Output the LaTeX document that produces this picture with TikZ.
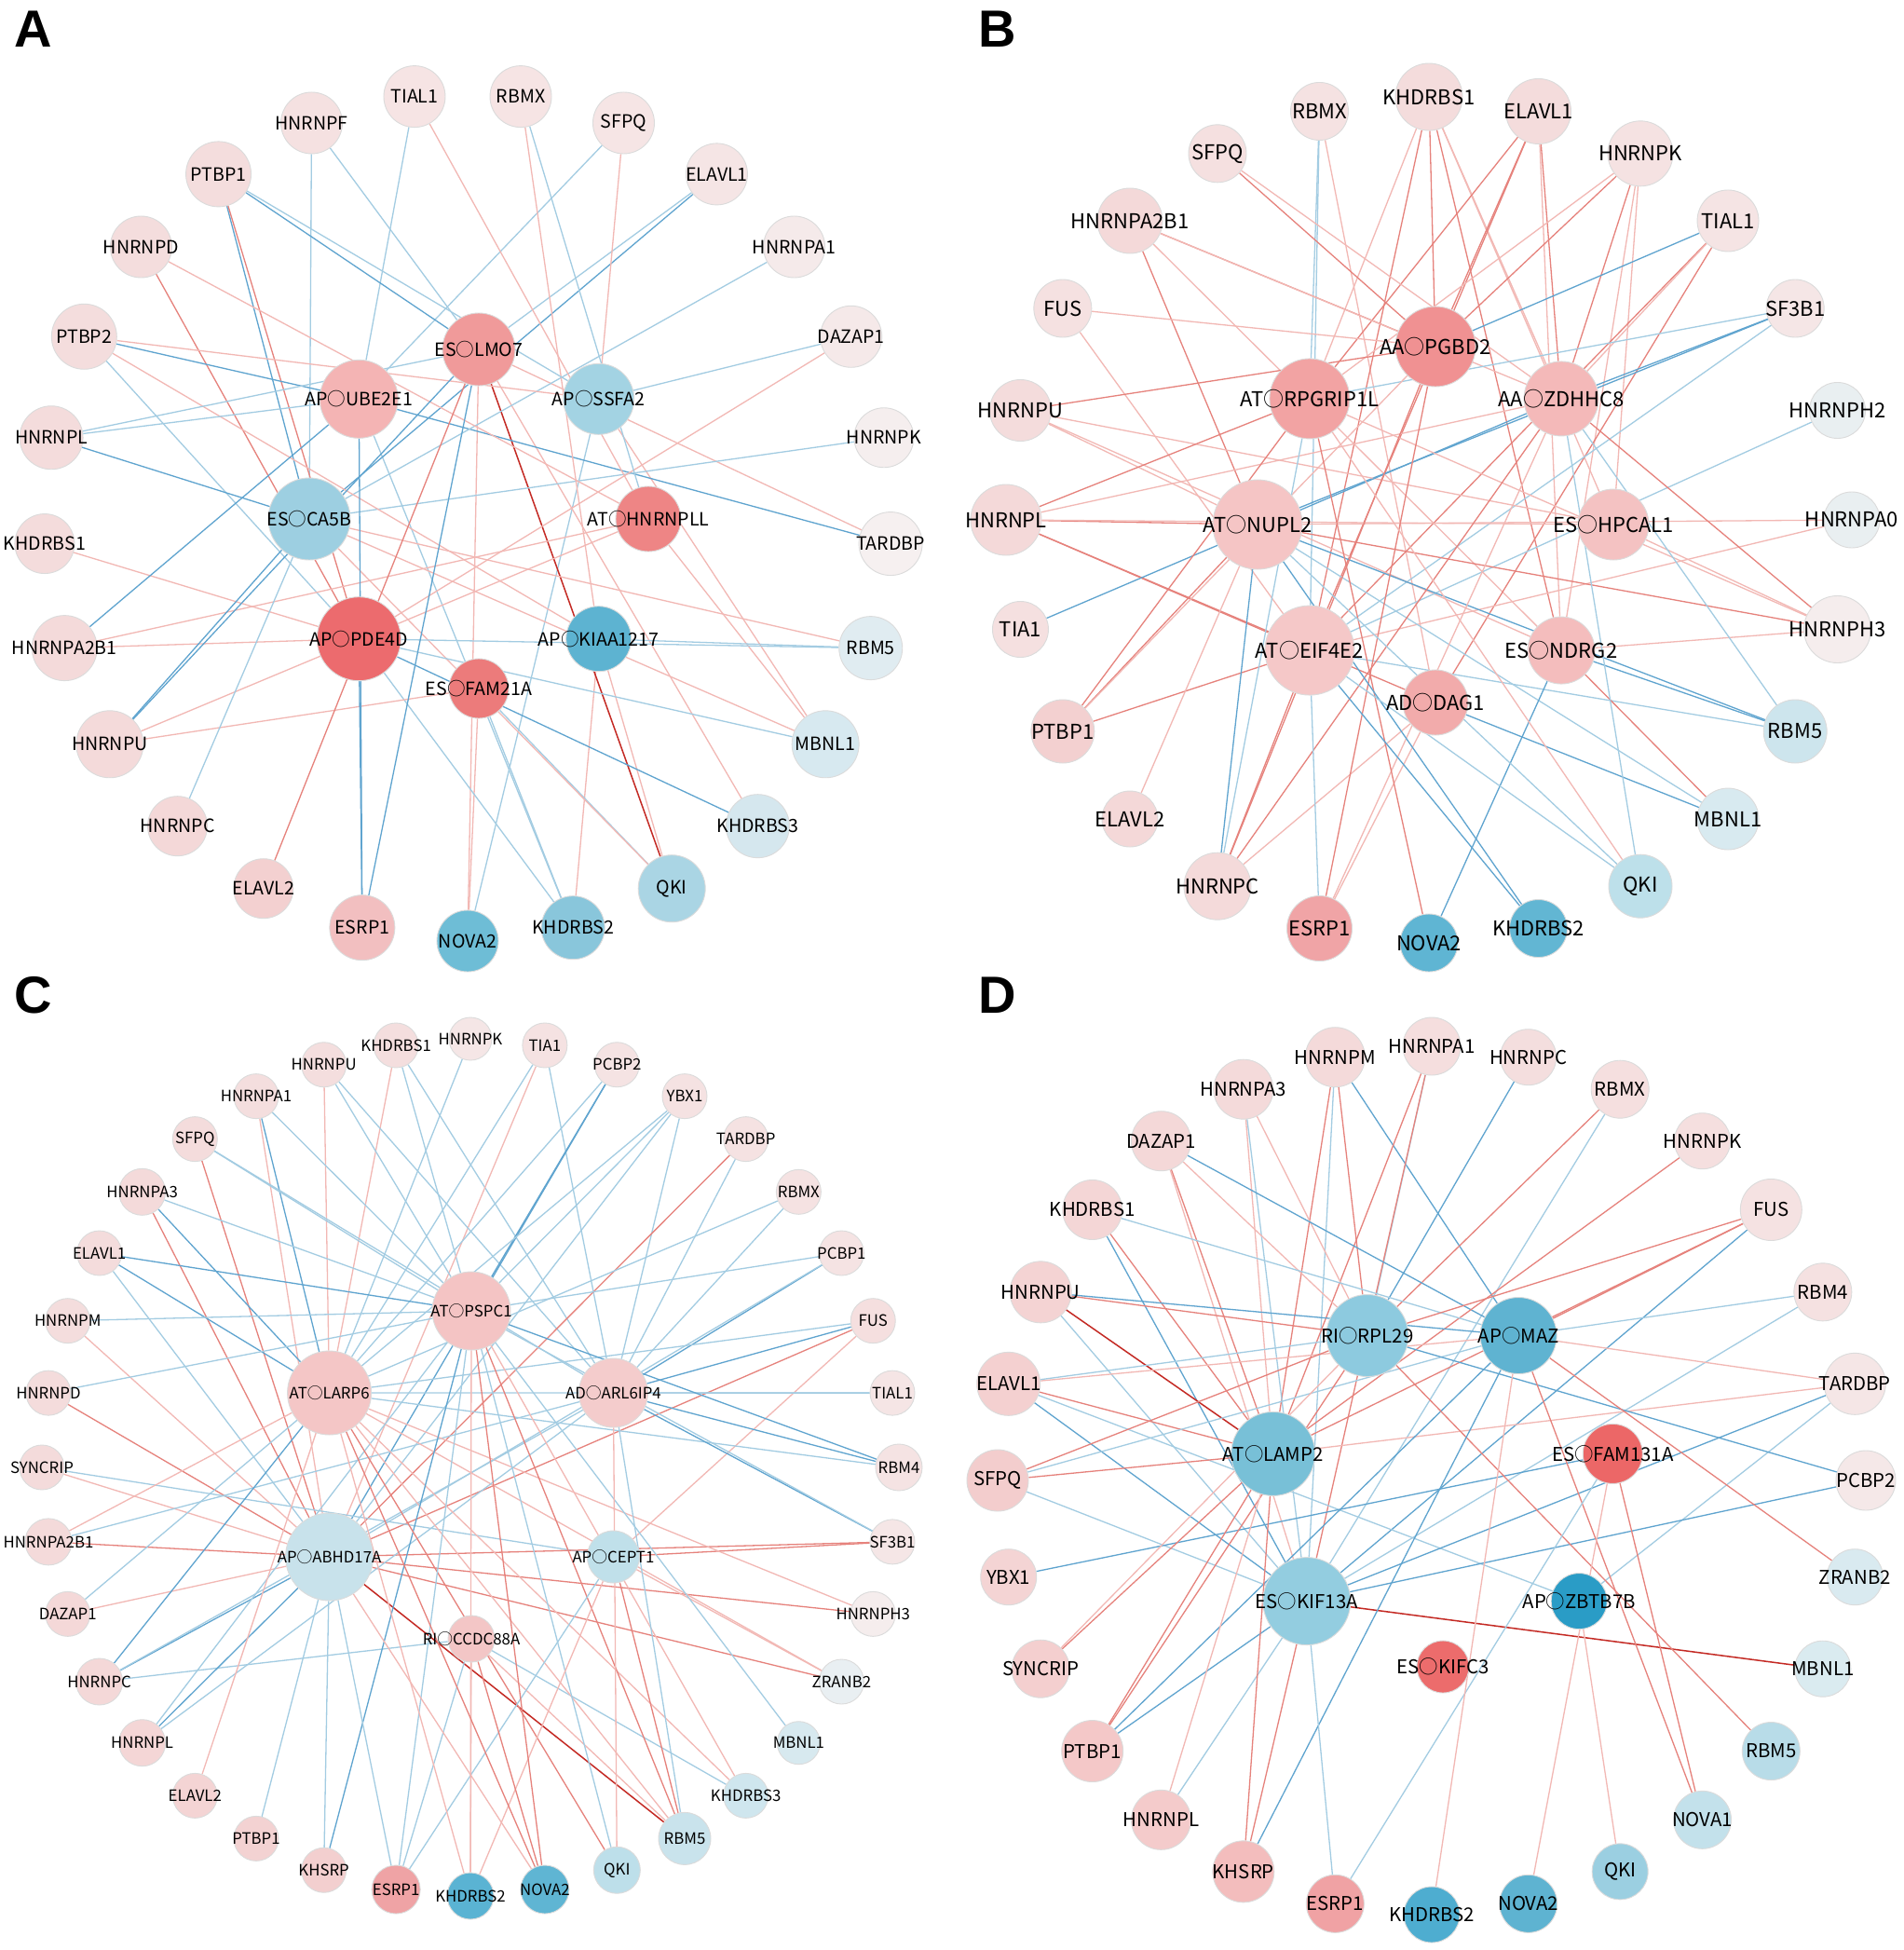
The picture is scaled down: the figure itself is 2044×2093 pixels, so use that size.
\documentclass[tikz,border=0pt]{standalone}
\usepackage{fontspec}
\newfontfamily\cjk{Noto Sans CJK SC}
\newfontfamily\labf{Liberation Sans}
\usetikzlibrary{calc}
\pgfdeclarelayer{back}
\pgfdeclarelayer{bg}
\pgfsetlayers{back,bg,main}
\definecolor{cb1}{HTML}{A3CCE2}
\definecolor{cb2}{HTML}{5FA4CF}
\definecolor{cp1}{HTML}{F2B8B4}
\definecolor{cp2}{HTML}{E6827C}
\definecolor{cp3}{HTML}{C42A24}
\tikzset{
  nd/.style={circle,draw=black!14,line width=0.45pt,inner sep=0pt},
  hx/.code={\edef\hxtmp{\noexpand\definecolor{hxc}{HTML}{#1}}\hxtmp\pgfkeysalso{fill=hxc}},
  fA/.style={font=\cjk\fontsize{9.8}{11}\selectfont,inner sep=0pt,text=black},
  fB/.style={font=\cjk\fontsize{11}{13}\selectfont,inner sep=0pt,text=black},
  fC/.style={font=\cjk\fontsize{8.4}{10}\selectfont,inner sep=0pt,text=black},
  fD/.style={font=\cjk\fontsize{10.2}{12}\selectfont,inner sep=0pt,text=black},
  eb1/.style={draw=cb1,line width=0.65pt},
  eb2/.style={draw=cb2,line width=0.65pt},
  ep1/.style={draw=cp1,line width=0.65pt},
  ep2/.style={draw=cp2,line width=0.65pt},
  ep3/.style={draw=cp3,line width=0.75pt},
  plab/.style={font=\labf\bfseries\fontsize{28}{30}\selectfont,inner sep=0pt}
}
\begin{document}
\begin{tikzpicture}[x=0.5pt,y=0.5pt]
\begin{pgfonlayer}{back}
\fill[white] (0,0) rectangle (2044,-2093);
\end{pgfonlayer}
\path[use as bounding box] (0,0) rectangle (2044,-2093);

\node[plab] (labA) at (36,-31) {A};
\node[plab] (labB) at (1071,-31) {B};
\node[plab] (labC) at (36,-1068) {C};
\node[plab] (labD) at (1071,-1068) {D};

% ---------------- Panel A ----------------
\coordinate (Ao) at (502,-555);
\coordinate (Ah) at (514,-557);
\foreach \ang/\nm/\rad/\hc in {270/NOVA2/33/6EBDD6, 284.4/KHDRBS2/34/89C6DB, 298.8/QKI/36/AAD5E4, 313.2/KHDRBS3/34/D5E7EE, 327.6/MBNL1/36/D7E9F0, 342/RBM5/34/E0ECF1, 356.4/TARDBP/34/F6F0F0, 10.8/HNRNPK/32/F5EEEE, 25.2/DAZAP1/33/F5E9E9, 39.6/HNRNPA1/33/F5EAEA, 54/ELAVL1/33/F5E5E5, 68.4/SFPQ/33/F6E5E5, 82.8/RBMX/33/F6E4E4, 97.2/TIAL1/33/F6E4E4, 111.6/HNRNPF/33/F5E1E1, 126/PTBP1/35/F4DDDD, 140.4/HNRNPD/33/F4DDDD, 154.8/PTBP2/35/F4DDDD, 169.2/HNRNPL/34/F4DCDC, 183.6/KHDRBS1/32/F4DCDC, 198/HNRNPA2B1/35/F4DADA, 212.4/HNRNPU/36/F4DADA, 226.8/HNRNPC/32/F4D8D8, 241.2/ELAVL2/32/F3D0D0, 255.6/ESRP1/35/F2BFC0}
{
  \node[nd,hx=\hc,minimum size=\rad pt] (a\nm) at ($(Ao)+(\ang:455)$) {};
  \node[fA] (a\nm-t) at (a\nm) {\nm};
}
\foreach \ang/\nm/\rad/\hc/\pre in {90/LMO7/39/F09A9A/ES, 45/SSFA2/38/A3D3E3/AP, 0/HNRNPLL/35/EE8585/AT, -45/KIAA1217/35/5DB3D1/AP, -90/FAM21A/32/EC7B7B/ES, -135/PDE4D/45/EC6B6E/AP, 180/CA5B/44/9DCFE1/ES, 135/UBE2E1/42/F4B4B4/AP}
{
  \node[nd,hx=\hc,minimum size=\rad pt] (a\nm) at ($(Ah)+(\ang:182)$) {};
  \node[fA] (a\nm-t) at (a\nm) {{\pre}○{\nm}};
}
\begin{pgfonlayer}{bg}
\foreach \s/\t/\e in {NOVA2/FAM21A/ep1, NOVA2/LMO7/ep1, NOVA2/SSFA2/eb1,
 KHDRBS2/PDE4D/eb1, KHDRBS2/UBE2E1/eb1, KHDRBS2/KIAA1217/ep1, KHDRBS2/FAM21A/eb1,
 QKI/LMO7/ep3, QKI/KIAA1217/ep1, QKI/FAM21A/eb1, QKI/CA5B/ep1,
 KHDRBS3/PDE4D/eb2, KHDRBS3/LMO7/ep1,
 MBNL1/HNRNPLL/ep1, MBNL1/SSFA2/ep1, MBNL1/CA5B/ep1, MBNL1/PDE4D/eb1,
 RBM5/KIAA1217/eb1, RBM5/PDE4D/eb1, RBM5/CA5B/ep1,
 TARDBP/UBE2E1/eb2, TARDBP/LMO7/ep1,
 HNRNPK/CA5B/eb1,
 DAZAP1/SSFA2/eb1, DAZAP1/PDE4D/ep1,
 HNRNPA1/CA5B/eb1,
 ELAVL1/LMO7/eb1, ELAVL1/CA5B/eb2,
 SFPQ/UBE2E1/eb1, SFPQ/SSFA2/ep1,
 RBMX/HNRNPLL/eb1, RBMX/KIAA1217/ep1,
 TIAL1/UBE2E1/eb1, TIAL1/HNRNPLL/ep1,
 HNRNPF/CA5B/eb1, HNRNPF/LMO7/eb1,
 PTBP1/LMO7/eb2, PTBP1/SSFA2/eb1, PTBP1/CA5B/eb2, PTBP1/PDE4D/ep2,
 HNRNPD/HNRNPLL/ep1, HNRNPD/PDE4D/ep2,
 PTBP2/SSFA2/ep1, PTBP2/UBE2E1/eb2, PTBP2/KIAA1217/ep1, PTBP2/PDE4D/eb1,
 HNRNPL/UBE2E1/eb1, HNRNPL/LMO7/eb1, HNRNPL/CA5B/eb2,
 KHDRBS1/PDE4D/ep1,
 HNRNPA2B1/PDE4D/ep1, HNRNPA2B1/UBE2E1/eb2, HNRNPA2B1/HNRNPLL/ep1,
 HNRNPU/CA5B/eb2, HNRNPU/LMO7/eb2, HNRNPU/HNRNPLL/ep1, HNRNPU/FAM21A/ep1,
 HNRNPC/CA5B/eb1,
 ELAVL2/LMO7/ep2,
 ESRP1/PDE4D/eb2, ESRP1/UBE2E1/eb2, ESRP1/LMO7/eb2}
 \draw[\e] (a\s) -- (a\t);
\end{pgfonlayer}

% ---------------- Panel B ----------------
\coordinate (Bo) at (1534,-558);
\coordinate (Bh) at (1541,-563);
\foreach \ang/\nm/\rad/\hc in {0/HNRNPA0/30/E9EFF1, 15/HNRNPH2/30/E9EFF1, 30/SF3B1/31/F5E6E6, 45/TIAL1/33/F5E4E4, 60/HNRNPK/35/F5E2E2, 75/ELAVL1/35/F4DCDC, 90/KHDRBS1/36/F4DCDC, 105/RBMX/31/F5E2E2, 120/SFPQ/31/F5E0E0, 135/HNRNPA2B1/35/F4D9D9, 150/FUS/31/F5E1E1, 165/HNRNPU/33/F4DCDC, 180/HNRNPL/38/F4D9D9, 195/TIA1/30/F5E0E0, 210/PTBP1/34/F3D0D0, 225/ELAVL2/30/F4D8D8, 240/HNRNPC/36/F4DADA, 255/ESRP1/35/F0A4A6, 270/NOVA2/31/5FB5D3, 285/KHDRBS2/31/62B6D3, 300/QKI/34/BDE0EA, 315/MBNL1/33/D8EAF0, 330/RBM5/34/CDE5ED, 345/HNRNPH3/36/F5EDED}
{
  \node[nd,hx=\hc,minimum size=\rad pt] (b\nm) at ($(Bo)+(\ang:454)$) {};
  \node[fB] (b\nm-t) at (b\nm) {\nm};
}
\foreach \ang/\nm/\rad/\hc/\pre in {90/PGBD2/43/F09192/AA, 45/ZDHHC8/40/F4B9B9/AA, 0/HPCAL1/38/F4C2C2/ES, -45/NDRG2/36/F4BDBD/ES, -90/DAG1/35/F2ABAB/AD, -135/EIF4E2/48/F5C8C8/AT, 180/NUPL2/48/F5C5C5/AT, 135/RPGRIP1L/43/F2A3A3/AT}
{
  \node[nd,hx=\hc,minimum size=\rad pt] (b\nm) at ($(Bh)+(\ang:191)$) {};
  \node[fB] (b\nm-t) at (b\nm) {{\pre}○{\nm}};
}
\begin{pgfonlayer}{bg}
\foreach \s/\t/\e in {RBMX/RPGRIP1L/eb1, RBMX/EIF4E2/eb1, RBMX/DAG1/ep1,
 KHDRBS1/RPGRIP1L/ep1, KHDRBS1/EIF4E2/ep2, KHDRBS1/PGBD2/ep2, KHDRBS1/ZDHHC8/ep1, KHDRBS1/NDRG2/ep2, KHDRBS1/HPCAL1/ep1,
 ELAVL1/PGBD2/ep2, ELAVL1/ZDHHC8/ep2, ELAVL1/RPGRIP1L/ep2, ELAVL1/NDRG2/ep1, ELAVL1/EIF4E2/ep2,
 SFPQ/PGBD2/ep2, SFPQ/ZDHHC8/ep1,
 HNRNPK/PGBD2/ep2, HNRNPK/RPGRIP1L/ep1, HNRNPK/ZDHHC8/ep2, HNRNPK/HPCAL1/ep1, HNRNPK/NDRG2/ep1,
 HNRNPA2B1/PGBD2/ep2, HNRNPA2B1/NUPL2/ep2, HNRNPA2B1/ZDHHC8/ep1, HNRNPA2B1/NDRG2/ep1,
 TIAL1/PGBD2/eb2, TIAL1/EIF4E2/ep2, TIAL1/DAG1/ep2, TIAL1/ZDHHC8/ep1,
 FUS/PGBD2/ep1, FUS/EIF4E2/ep1,
 SF3B1/RPGRIP1L/eb1, SF3B1/ZDHHC8/eb2, SF3B1/NUPL2/eb2, SF3B1/EIF4E2/eb1,
 HNRNPU/PGBD2/ep2, HNRNPU/HPCAL1/ep1, HNRNPU/NDRG2/ep1, HNRNPU/NUPL2/ep1,
 HNRNPH2/EIF4E2/eb1,
 HNRNPL/RPGRIP1L/ep2, HNRNPL/ZDHHC8/ep1, HNRNPL/NUPL2/ep2, HNRNPL/HPCAL1/ep1, HNRNPL/EIF4E2/ep2, HNRNPL/DAG1/ep2,
 HNRNPA0/NUPL2/ep1, HNRNPA0/EIF4E2/ep1,
 TIA1/ZDHHC8/eb2,
 HNRNPH3/NUPL2/ep2, HNRNPH3/HPCAL1/ep1, HNRNPH3/ZDHHC8/ep2, HNRNPH3/NDRG2/ep1, HNRNPH3/RPGRIP1L/ep1,
 PTBP1/RPGRIP1L/ep2, PTBP1/NUPL2/ep2, PTBP1/EIF4E2/ep2, PTBP1/PGBD2/ep1,
 RBM5/NDRG2/eb2, RBM5/EIF4E2/eb1, RBM5/ZDHHC8/eb1, RBM5/NUPL2/eb2,
 ELAVL2/NUPL2/ep1,
 MBNL1/DAG1/eb2, MBNL1/NUPL2/eb1, MBNL1/NDRG2/ep2,
 HNRNPC/NUPL2/eb2, HNRNPC/RPGRIP1L/eb1, HNRNPC/PGBD2/ep2, HNRNPC/ZDHHC8/ep2, HNRNPC/DAG1/ep1, HNRNPC/EIF4E2/ep2,
 ESRP1/EIF4E2/eb1, ESRP1/PGBD2/ep2, ESRP1/ZDHHC8/ep1, ESRP1/DAG1/ep1,
 NOVA2/NDRG2/eb2, NOVA2/RPGRIP1L/ep2,
 KHDRBS2/EIF4E2/eb2, KHDRBS2/NUPL2/eb2,
 QKI/NUPL2/eb1, QKI/EIF4E2/eb1, QKI/ZDHHC8/eb1, QKI/RPGRIP1L/ep1}
 \draw[\e] (b\s) -- (b\t);
\end{pgfonlayer}

% ---------------- Panel C ----------------
\coordinate (Co) at (505,-1575);
\coordinate (Ch) at (506,-1583);
\foreach \ang/\nm/\rad/\hc in {0/RBM4/25/F5E3E3, 10/TIAL1/24/F5E5E5, 20/FUS/24/F5DFDF, 30/PCBP1/24/F5E3E3, 40/RBMX/24/F5E2E2, 50/TARDBP/24/F5E2E2, 60/YBX1/24/F5E2E2, 70/PCBP2/24/F5E3E3, 80/TIA1/24/F5E2E2, 90/HNRNPK/23/F5E6E6, 100/KHDRBS1/24/F4DEDE, 110/HNRNPU/24/F4DEDE, 120/HNRNPA1/24/F4DEDE, 130/SFPQ/24/F4DCDC, 140/HNRNPA3/25/F4DADA, 150/ELAVL1/24/F4DCDC, 160/HNRNPM/24/F4DDDD, 170/HNRNPD/24/F4DCDC, 180/SYNCRIP/24/F4DBDB, 190/HNRNPA2B1/25/F4DADA, 200/DAZAP1/24/F4D8D8, 210/HNRNPC/25/F4D8D8, 220/HNRNPL/25/F4D6D6, 230/ELAVL2/24/F4D4D4, 240/PTBP1/24/F3D2D2, 250/KHSRP/24/F3CFCF, 260/ESRP1/26/EFA3A5, 270/KHDRBS2/25/5AB3D3, 280/NOVA2/26/5FB5D3, 290/QKI/25/BDDFEA, 300/RBM5/28/C9E3EC, 310/KHDRBS3/24/CFE6EE, 320/MBNL1/23/D7E9EF, 330/ZRANB2/24/E9EFF2, 340/HNRNPH3/24/F5EDED, 350/SF3B1/24/F5E6E6}
{
  \node[nd,hx=\hc,minimum size=\rad pt] (c\nm) at ($(Co)+(\ang:460)$) {};
  \node[fC] (c\nm-t) at (c\nm) {\nm};
}
\foreach \ang/\nm/\rad/\hc/\pre in {90/PSPC1/42/F4C4C4/AT, 150/LARP6/45/F4C6C6/AT, 210/ABHD17A/47/C8E2EB/AP, 270/CCDC88A/25/F3C6C6/RI, 330/CEPT1/28/C0E0EA/AP, 30/ARL6IP4/37/F4CCCC/AD}
{
  \node[nd,hx=\hc,minimum size=\rad pt] (c\nm) at ($(Ch)+(\ang:176)$) {};
  \node[fC] (c\nm-t) at (c\nm) {{\pre}○{\nm}};
}
\begin{pgfonlayer}{bg}
\foreach \s/\t/\e in {HNRNPK/LARP6/eb1,
 KHDRBS1/LARP6/ep1, KHDRBS1/PSPC1/eb1, KHDRBS1/ARL6IP4/eb1,
 TIA1/LARP6/eb1, TIA1/ABHD17A/ep1, TIA1/ARL6IP4/eb1,
 HNRNPU/LARP6/ep1, HNRNPU/PSPC1/eb1, HNRNPU/ARL6IP4/eb1,
 PCBP2/PSPC1/eb2, PCBP2/ABHD17A/eb2, PCBP2/LARP6/eb1,
 HNRNPA1/LARP6/eb2, HNRNPA1/PSPC1/eb1, HNRNPA1/ABHD17A/ep1,
 YBX1/PSPC1/eb1, YBX1/LARP6/eb1, YBX1/ABHD17A/eb1, YBX1/ARL6IP4/eb1,
 SFPQ/PSPC1/eb1, SFPQ/ARL6IP4/eb1, SFPQ/ABHD17A/ep2,
 TARDBP/ABHD17A/ep2, TARDBP/ARL6IP4/eb1,
 HNRNPA3/ABHD17A/ep2, HNRNPA3/PSPC1/eb1, HNRNPA3/LARP6/eb2,
 RBMX/ARL6IP4/eb1, RBMX/LARP6/eb1,
 ELAVL1/PSPC1/eb2, ELAVL1/LARP6/eb2, ELAVL1/ABHD17A/eb1,
 PCBP1/PSPC1/eb1, PCBP1/ARL6IP4/eb2, PCBP1/ABHD17A/eb1,
 HNRNPM/PSPC1/eb1, HNRNPM/ABHD17A/ep1,
 FUS/ARL6IP4/eb2, FUS/ABHD17A/ep2, FUS/CEPT1/ep1, FUS/LARP6/eb1,
 HNRNPD/PSPC1/eb1, HNRNPD/ABHD17A/ep2,
 TIAL1/ARL6IP4/eb1, TIAL1/LARP6/eb1,
 SYNCRIP/ABHD17A/ep1, SYNCRIP/CEPT1/eb1,
 RBM4/ARL6IP4/eb2, RBM4/LARP6/eb1, RBM4/PSPC1/eb2,
 HNRNPA2B1/ABHD17A/ep2, HNRNPA2B1/ARL6IP4/eb1, HNRNPA2B1/LARP6/ep1,
 SF3B1/CEPT1/ep2, SF3B1/ABHD17A/ep2, SF3B1/ARL6IP4/eb2, SF3B1/PSPC1/eb1,
 DAZAP1/LARP6/eb1, DAZAP1/ABHD17A/ep1,
 HNRNPH3/ABHD17A/ep2, HNRNPH3/LARP6/ep1,
 HNRNPC/LARP6/eb2, HNRNPC/ABHD17A/eb2, HNRNPC/CCDC88A/eb1, HNRNPC/ARL6IP4/eb1,
 ZRANB2/ABHD17A/ep2, ZRANB2/CEPT1/ep1, ZRANB2/LARP6/ep1,
 HNRNPL/ABHD17A/eb2, HNRNPL/PSPC1/eb1, HNRNPL/ARL6IP4/eb1,
 MBNL1/PSPC1/eb1,
 ELAVL2/LARP6/ep1,
 KHDRBS3/CCDC88A/eb1, KHDRBS3/LARP6/ep1, KHDRBS3/PSPC1/ep1,
 PTBP1/ABHD17A/eb1,
 RBM5/ABHD17A/ep3, RBM5/PSPC1/ep2, RBM5/LARP6/ep1, RBM5/CEPT1/ep2, RBM5/ARL6IP4/eb1, RBM5/CCDC88A/ep1,
 KHSRP/ABHD17A/eb1, KHSRP/PSPC1/eb2,
 QKI/ARL6IP4/ep1, QKI/LARP6/ep2, QKI/PSPC1/eb1,
 ESRP1/ABHD17A/eb1, ESRP1/PSPC1/eb1, ESRP1/CEPT1/eb1, ESRP1/CCDC88A/eb1,
 KHDRBS2/CCDC88A/ep1, KHDRBS2/PSPC1/ep1, KHDRBS2/LARP6/ep1, KHDRBS2/CEPT1/ep1,
 NOVA2/LARP6/ep2, NOVA2/CCDC88A/ep2, NOVA2/PSPC1/ep2, NOVA2/ABHD17A/ep1}
 \draw[\e] (c\s) -- (c\t);
\end{pgfonlayer}

% ---------------- Panel D ----------------
\coordinate (Do) at (1537,-1589);
\coordinate (Dh) at (1549,-1602);
\foreach \ang/\nm/\rad/\hc in {0/PCBP2/32/F5E8E8, 12.857/TARDBP/33/F5E6E6, 25.714/RBM4/31/F5E1E1, 38.571/FUS/33/F5E2E2, 51.429/HNRNPK/30/F5DFDF, 64.286/RBMX/31/F5DFDF, 77.143/HNRNPC/30/F4DEDE, 90/HNRNPA1/31/F5DEDE, 102.857/HNRNPM/32/F4DADA, 115.714/HNRNPA3/32/F4DADA, 128.571/DAZAP1/32/F4D8D8, 141.429/KHDRBS1/32/F4D6D6, 154.286/HNRNPU/33/F4D3D3, 167.143/ELAVL1/34/F4D0D0, 180/SFPQ/33/F3CDCD, 192.857/YBX1/30/F4D4D4, 205.714/SYNCRIP/31/F4CFCF, 218.571/PTBP1/33/F4C8C8, 231.429/HNRNPL/32/F4CBCB, 244.286/KHSRP/33/F3BDBD, 257.143/ESRP1/31/F0A2A4, 270/KHDRBS2/30/4EADD0, 282.857/NOVA2/31/5EB3D1, 295.714/QKI/30/9BCFE1, 308.571/NOVA1/31/C3E1EB, 321.429/RBM5/31/B8DCE8, 334.286/MBNL1/30/DAEBF0, 347.143/ZRANB2/30/D9EAF0}
{
  \node[nd,hx=\hc,minimum size=\rad pt] (d\nm) at ($(Do)+(\ang:466)$) {};
  \node[fD] (d\nm-t) at (d\nm) {\nm};
}
\foreach \ang/\nm/\rad/\hc/\pre in {270/KIFC3/28/EC6C6C/ES, 321.43/ZBTB7B/30/2A9CC6/AP, 12.86/FAM131A/32/EC6767/ES, 64.29/MAZ/41/5FB3D1/AP, 115.71/RPL29/44/8DCADF/RI, 167.14/LAMP2/45/78C0D7/AT, 218.57/KIF13A/47/93CDE0/ES}
{
  \node[nd,hx=\hc,minimum size=\rad pt] (d\nm) at ($(Dh)+(\ang:187)$) {};
  \node[fD] (d\nm-t) at (d\nm) {{\pre}○{\nm}};
}
\begin{pgfonlayer}{bg}
\foreach \s/\t/\e in {HNRNPM/LAMP2/ep2, HNRNPM/RPL29/ep2, HNRNPM/MAZ/eb2, HNRNPM/KIF13A/eb1,
 HNRNPA1/LAMP2/ep2, HNRNPA1/RPL29/eb1, HNRNPA1/KIF13A/ep2,
 HNRNPC/RPL29/eb2,
 HNRNPA3/RPL29/ep1, HNRNPA3/KIF13A/eb1, HNRNPA3/LAMP2/ep1,
 RBMX/RPL29/ep2, RBMX/KIF13A/eb1,
 DAZAP1/MAZ/eb2, DAZAP1/RPL29/ep1, DAZAP1/LAMP2/ep2, DAZAP1/KIF13A/ep1,
 HNRNPK/LAMP2/ep2,
 KHDRBS1/MAZ/eb1, KHDRBS1/KIF13A/eb2, KHDRBS1/LAMP2/ep2,
 FUS/RPL29/ep2, FUS/MAZ/ep2, FUS/LAMP2/ep2, FUS/KIF13A/eb2,
 HNRNPU/MAZ/eb2, HNRNPU/RPL29/ep2, HNRNPU/LAMP2/ep3, HNRNPU/KIF13A/eb1,
 RBM4/MAZ/eb1, RBM4/KIF13A/eb1,
 ELAVL1/MAZ/ep1, ELAVL1/RPL29/eb1, ELAVL1/LAMP2/ep2, ELAVL1/KIF13A/eb2, ELAVL1/ZBTB7B/eb1,
 TARDBP/MAZ/ep1, TARDBP/LAMP2/ep1, TARDBP/KIF13A/eb2, TARDBP/ZBTB7B/eb1,
 SFPQ/LAMP2/ep2, SFPQ/RPL29/ep2, SFPQ/MAZ/eb1, SFPQ/KIF13A/eb1,
 PCBP2/RPL29/eb2, PCBP2/KIF13A/eb2,
 YBX1/FAM131A/eb2,
 ZRANB2/MAZ/ep2,
 SYNCRIP/LAMP2/ep2, SYNCRIP/RPL29/ep1,
 MBNL1/KIF13A/ep3,
 PTBP1/LAMP2/ep2, PTBP1/RPL29/ep2, PTBP1/KIF13A/eb2, PTBP1/MAZ/eb2,
 RBM5/RPL29/ep2,
 HNRNPL/LAMP2/ep1, HNRNPL/KIF13A/eb1,
 NOVA1/MAZ/ep2, NOVA1/FAM131A/ep2,
 KHSRP/LAMP2/ep2, KHSRP/KIF13A/ep2, KHSRP/MAZ/eb2,
 QKI/ZBTB7B/ep1,
 ESRP1/KIF13A/eb1, ESRP1/FAM131A/eb1,
 NOVA2/FAM131A/ep1,
 KHDRBS2/MAZ/ep1}
 \draw[\e] (d\s) -- (d\t);
\end{pgfonlayer}
\end{tikzpicture}
\end{document}
